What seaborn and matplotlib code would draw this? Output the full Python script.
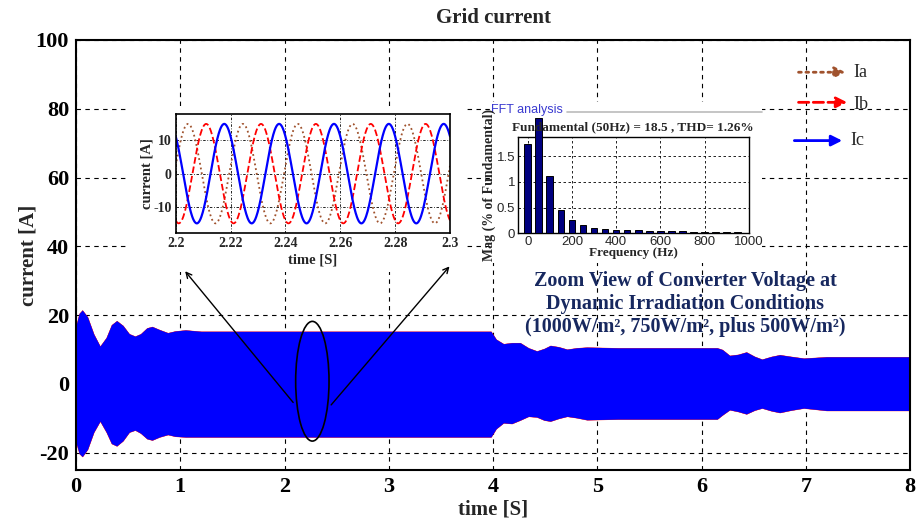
import numpy as np
import pandas as pd
import matplotlib
matplotlib.use("Agg")
import matplotlib.pyplot as plt
import seaborn as sns
from matplotlib.patches import Ellipse, Rectangle

# envelope of the three phase currents
env_t = [0, 0.03, 0.06, 0.11, 0.17, 0.23, 0.29, 0.34, 0.39, 0.45,
         0.51, 0.566, 0.62, 0.68, 0.73, 0.8, 0.88, 0.95, 1.05, 1.2,
         3.98, 4.03, 4.1, 4.18, 4.26, 4.34, 4.42, 4.49, 4.55, 4.63,
         4.71, 4.8, 4.9, 5.2, 6.15, 6.2, 6.27, 6.35, 6.43, 6.51,
         6.58, 6.67, 6.75, 6.86, 6.98, 7.2, 8.0]
env_upper = [17, 20.5, 21.5, 19.5, 14.5, 11.0, 13.5, 17.2, 18.4, 17.0,
             14.6, 13.9, 14.6, 16.3, 16.7, 15.8, 14.9, 15.4, 15.7, 15.3,
             15.3, 13.0, 11.7, 12.0, 12.0, 10.5, 9.6, 10.3, 11.2, 10.8,
             10.1, 10.5, 10.7, 10.5, 10.5, 10.0, 8.3, 8.6, 9.3, 8.0,
             7.2, 8.0, 8.5, 8.0, 7.5, 7.9, 7.9]
env_lower = [-17, -20.2, -21.1, -19.0, -14.0, -10.8, -14.0, -17.3, -18.0, -16.5,
             -14.0, -13.4, -14.3, -15.9, -16.3, -15.4, -14.7, -15.2, -15.4, -15.4,
             -15.4, -13.0, -11.3, -11.5, -10.5, -9.4, -9.6, -10.5, -10.8, -10.0,
             -9.4, -9.8, -10.4, -10.2, -10.2, -9.0, -7.5, -8.0, -8.7, -7.6,
             -7.0, -7.8, -8.3, -7.6, -7.0, -7.7, -7.7]

# zoomed waveform: amplitude, grid frequency and time of first peak per phase
phases = ["Ia", "Ib", "Ic"]
amp = 15.0
freq = 50.0
peak_time = [2.2045, 2.2111, 2.2177]
phase_colors = ["#a0522d", "#ff0000", "#0000ff"]
phase_styles = [":", "--", "-"]

# FFT of the current (% of fundamental)
fft_freq = [0, 50, 100, 150, 200, 250, 300, 350, 400, 450,
            500, 550, 600, 650, 700, 750, 800, 850, 900, 950]
fft_mag = [1.73, 2.24, 1.12, 0.45, 0.26, 0.16, 0.10, 0.09, 0.07, 0.06,
           0.06, 0.05, 0.04, 0.04, 0.035, 0.03, 0.03, 0.025, 0.025, 0.02]

sns.set_style("white")
plt.rcParams["font.family"] = ["Liberation Serif", "DejaVu Sans"]
plt.rcParams["axes.unicode_minus"] = False

fig = plt.figure(figsize=(9.18, 5.24), dpi=100)
ax = fig.add_axes([0.0828, 0.1031, 0.9085, 0.8206])

grid_kw = dict(color="black", linestyle=(0, (4, 4)), linewidth=0.8)
ax.fill_between(env_t, env_lower, env_upper, color="#ff0000", lw=0.3, zorder=2)
ax.fill_between(env_t, env_lower, env_upper, color="#0000ff", lw=0, zorder=2.1)
ax.set_xlim(0, 8)
ax.set_ylim(-25, 100)
ax.set_xticks(range(0, 9))
ax.set_yticks(range(-20, 101, 20))
ax.grid(True, **grid_kw)
ax.set_axisbelow(True)
ax.tick_params(direction="in", length=4, labelsize=16, colors="black", pad=5)
for lab in ax.get_xticklabels() + ax.get_yticklabels():
    lab.set_fontweight("bold")
for s in ax.spines.values():
    s.set_color("black")
    s.set_linewidth(1.5)
ax.set_title("Grid current", fontsize=15, fontweight="bold", pad=12)
ax.set_xlabel("time [S]", fontsize=15, fontweight="bold", labelpad=2)
ax.set_ylabel("current [A]", fontsize=15, fontweight="bold", labelpad=-2)

# white panels behind the insets
for x0, y0, w, h in [(0.1383, 0.4809, 0.3682, 0.3168), (0.536, 0.4981, 0.2941, 0.3073)]:
    ax.add_patch(Rectangle((x0, y0), w, h, transform=fig.transFigure,
                           facecolor="white", edgecolor="none", zorder=3, clip_on=False))
ax.plot([567 / 918, 762 / 918], [1 - 111.5 / 524] * 2, transform=fig.transFigure,
        color="#bbbbbb", lw=1.2, zorder=3.5, clip_on=False)
ax.text(491 / 918, 1 - 110 / 524, "FFT analysis", transform=fig.transFigure,
        family=["Liberation Sans", "DejaVu Sans"], fontsize=9, color="#3a3ad0",
        va="center", ha="left", zorder=3.6)

# zoom ellipse and arrows to the inset
ax.add_patch(Ellipse((2.267, 0.8), 0.32, 34.8, fill=False, edgecolor="black", lw=1.2, zorder=4))
ax.annotate("", xy=(1.03, 33.4), xytext=(2.10, -6.0),
            arrowprops=dict(arrowstyle="->", color="black", lw=1.0), zorder=4)
ax.annotate("", xy=(3.60, 34.8), xytext=(2.43, -6.7),
            arrowprops=dict(arrowstyle="->", color="black", lw=1.0), zorder=4)

# legend drawn as arrows
leg_pos = [((0.863, 0.925), (0.926, 0.925), (0.932, 0.925)),
           ((0.863, 0.855), (0.928, 0.855), (0.932, 0.849)),
           ((0.858, 0.766), (0.922, 0.766), (0.929, 0.766))]
for name, c, ls, (p0, p1, pt) in zip(phases, phase_colors, phase_styles, leg_pos):
    ax.annotate("", xy=p1, xytext=p0, xycoords="axes fraction", textcoords="axes fraction",
                arrowprops=dict(arrowstyle="-|>", color=c, lw=2, linestyle=ls,
                                mutation_scale=16), zorder=5)
    ax.text(pt[0], pt[1], name, transform=ax.transAxes, fontsize=13,
            va="center", ha="left", zorder=5)

ax.text(685 / 918, 1 - 304 / 524,
        "Zoom View of Converter Voltage at\nDynamic Irradiation Conditions\n"
        "(1000W/m\u00b2, 750W/m\u00b2, plus 500W/m\u00b2)",
        transform=fig.transFigure, ha="center", va="center", fontsize=14.5,
        fontweight="bold", color="#17285f", linespacing=1.17, zorder=5)

# inset: zoomed waveform
ax1 = fig.add_axes([0.1914, 0.5548, 0.2988, 0.2277])
t_in = np.linspace(2.2, 2.3, 600)
rows = []
for name, tp in zip(phases, peak_time):
    rows.append(pd.DataFrame({"t": t_in, "i": amp * np.cos(2 * np.pi * freq * (t_in - tp)),
                              "phase": name}))
wave = pd.concat(rows)
for name, c, ls in zip(phases, phase_colors, phase_styles):
    sns.lineplot(data=wave[wave["phase"] == name], x="t", y="i", ax=ax1,
                 color=c, linestyle=ls, lw=1.6 if ls == "-" else 1.3)
ax1.set_xlim(2.2, 2.3)
ax1.set_ylim(-18, 18)
ax1.set_xticks([2.2, 2.22, 2.24, 2.26, 2.28, 2.3])
ax1.set_xticklabels(["2.2", "2.22", "2.24", "2.26", "2.28", "2.3"])
ax1.set_yticks([-10, 0, 10])
ax1.set_yticklabels(["-10", "0", "10"])
ax1.grid(True, color="black", linestyle=(0, (3, 2, 1, 2)), linewidth=0.6)
ax1.tick_params(direction="in", length=3, labelsize=10, pad=3)
for lab in ax1.get_xticklabels() + ax1.get_yticklabels():
    lab.set_fontweight("bold")
for s in ax1.spines.values():
    s.set_color("black")
    s.set_linewidth(1.2)
ax1.set_xlabel("time [S]", fontsize=10.5, fontweight="bold", labelpad=2)
ax1.set_ylabel("current [A]", fontsize=10.5, fontweight="bold", labelpad=0)

# inset: FFT bars
ax2 = fig.add_axes([0.564, 0.5548, 0.2516, 0.1832])
bars = ax2.bar(fft_freq, fft_mag, width=30, color="#00007f", edgecolor="black", lw=0.7, zorder=3)
for b in bars:
    b.set_clip_on(False)
ax2.set_xlim(-45, 1000)
ax2.set_ylim(0, 1.87)
ax2.set_xticks(range(0, 1001, 200))
ax2.set_yticks([0, 0.5, 1, 1.5])
ax2.set_yticklabels(["0", "0.5", "1", "1.5"])
ax2.grid(True, color="black", linestyle=(0, (3, 3)), linewidth=0.6)
ax2.set_axisbelow(True)
ax2.tick_params(direction="in", length=2, labelsize=9.5, pad=2)
for lab in ax2.get_xticklabels() + ax2.get_yticklabels():
    lab.set_family(["Liberation Sans", "DejaVu Sans"])
for s in ax2.spines.values():
    s.set_color("black")
    s.set_linewidth(1.0)
ax2.set_title("Fundamental (50Hz) = 18.5 , THD= 1.26%", fontsize=9.5, fontweight="bold", pad=5)
ax2.set_xlabel("Frequency (Hz)", fontsize=9.5, fontweight="bold", labelpad=-1)
ax2.set_ylabel("Mag (% of Fundamental)", fontsize=10, fontweight="bold", labelpad=0)

fig.savefig("out.png", dpi=100)
